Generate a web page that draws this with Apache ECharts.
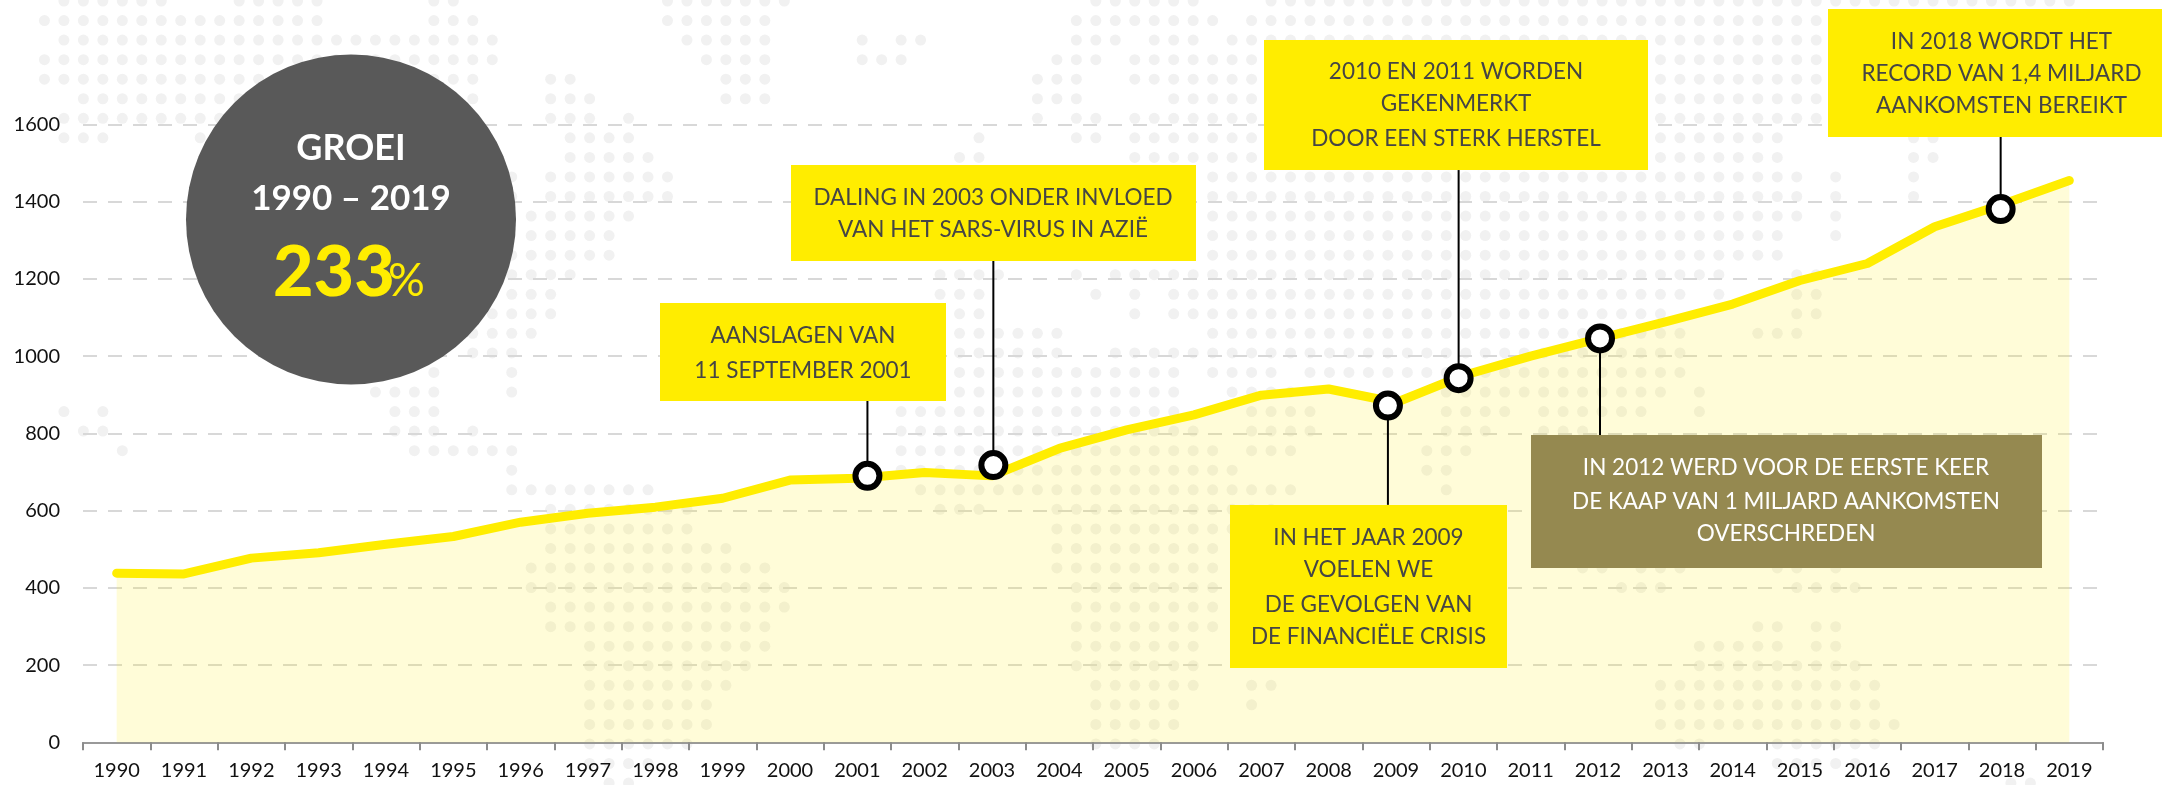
<!DOCTYPE html>
<html><head><meta charset="utf-8">
<style>html,body{margin:0;padding:0;background:#fff}#c{width:2162px;height:785px}</style>
<script src="https://cdn.jsdelivr.net/npm/echarts@6/dist/echarts.min.js"></script>
</head><body><div id="c"></div>
<script>
const years=['1990','1991','1992','1993','1994','1995','1996','1997','1998','1999','2000','2001','2002','2003','2004','2005','2006','2007','2008','2009','2010','2011','2012','2013','2014','2015','2016','2017','2018','2019'];
const arrivals=[438,436,477,491,513,533,570,593,609,632,679,684,699,690,761,809,848,899,915,880,950,1000,1045,1089,1135,1196,1240,1335,1393,1455];
// annotated points: [position on time axis, value]
const markerPoints=[[2001.15,690],[2003.02,718],[2008.88,872],[2009.93,943],[2012.03,1046],[2017.98,1381]];
// value at which each leader line meets its callout box
const leaderEnds=[884,1247,615,1482,793,1568];
const yTicks={min:0,max:1600,step:200};
// decorative dotted world map: per row, [first column, last column] spans
const mapRows=[
[[3,8],[12,16],[22,23],[34,40],[56,61],[65,106]],
[[2,16],[22,24],[34,39],[55,62],[64,93]],
[[3,25],[35,39],[44,44],[46,47],[55,57],[59,61],[63,93]],
[[2,25],[36,39],[44,46],[54,56],[58,93]],
[[2,24],[28,29],[37,39],[53,55],[58,93]],
[[4,24],[28,30],[37,39],[53,55],[60,93]],
[[3,24],[28,30],[32,32],[53,53],[55,56],[58,93]],
[[3,5],[10,10],[29,32],[50,50],[55,56],[58,91],[98,99]],
[[29,33],[49,50],[58,91],[98,99]],
[[26,26],[28,34],[62,92],[94,94],[98,98]],
[[26,26],[28,34],[62,92],[94,94],[98,98]],
[[27,32],[62,92],[94,94]],
[[27,31],[62,91],[94,94]],
[[26,31],[62,91]],
[[26,29],[48,51],[55,55],[57,88],[92,93]],
[[26,28],[48,50],[56,56],[58,58],[60,86],[88,88],[92,93]],
[[25,28],[49,50],[58,58],[60,85],[92,93]],
[[24,27],[49,54],[62,86],[90,92]],
[[24,26],[49,54],[57,86]],
[[22,22],[26,26],[49,60],[62,65],[67,86]],
[[19,22],[26,26],[49,60],[63,66],[74,85],[87,87]],
[[3,3],[5,5],[20,22],[46,60],[64,67],[74,77],[79,84],[87,87]],
[[4,5],[20,22],[24,24],[46,61],[64,67],[74,76],[79,81]],
[[6,6],[21,26],[46,62],[64,66],[73,75]],
[[26,26],[46,63],[73,74]],
[[26,33],[47,66],[74,74]],
[[28,35],[48,50],[54,65]],
[[28,35],[54,63]],
[[28,37],[54,62]],
[[27,39],[54,62],[81,82],[84,86],[91,92],[94,94]],
[[27,40],[55,62],[83,85],[92,95]],
[[28,40],[55,62]],
[[28,39],[55,62],[90,91],[93,94]],
[[30,39],[55,61],[87,91],[93,94]],
[[30,38],[55,61],[87,95]],
[[30,37],[56,61],[64,65],[85,96]],
[[30,36],[56,60],[64,64],[85,96]],
[[30,36],[56,60],[85,97]],
[[30,35],[56,59],[86,87],[91,96]],
[[30,33],[91,95]],
[[31,32],[103,104]]
];
const calloutLines=[
 ['AANSLAGEN VAN','11 SEPTEMBER 2001'],
 ['DALING IN 2003 ONDER INVLOED','VAN HET SARS-VIRUS IN AZIË'],
 ['2010 EN 2011 WORDEN','GEKENMERKT','DOOR EEN STERK HERSTEL'],
 ['IN 2018 WORDT HET','RECORD VAN 1,4 MILJARD','AANKOMSTEN BEREIKT'],
 ['IN HET JAAR 2009','VOELEN WE','DE GEVOLGEN VAN','DE FINANCIËLE CRISIS'],
 ['IN 2012 WERD VOOR DE EERSTE KEER','DE KAAP VAN 1 MILJARD AANKOMSTEN','OVERSCHREDEN']
];
const badgeTitle=['GROEI','1990 – 2019'];
const badgeValue='233';
const badgeUnit='%';

// layout of the callouts in page pixels
const boxLayout=[
 {x:660,y:303,w:286,h:98,cx:803,ly:[336,370.7],fill:'#ffed00',ink:'#454545'},
 {x:791,y:165,w:405,h:96,cx:993,ly:[197.7,230],fill:'#ffed00',ink:'#454545'},
 {x:1264,y:40,w:384,h:130,cx:1456,ly:[71.7,103.7,138.7],fill:'#ffed00',ink:'#454545'},
 {x:1828,y:9,w:334,h:128,cx:2001.5,ly:[41.7,73.3,106],fill:'#ffed00',ink:'#454545'},
 {x:1230,y:505,w:277,h:163,cx:1368.5,ly:[537.7,570,605,636.7],fill:'#ffed00',ink:'#454545'},
 {x:1531,y:435,w:511,h:133,cx:1786,ly:[467.7,501.7,534],fill:'#958950',ink:'#ffffff'}
];
const FONT='Lato, "Open Sans", sans-serif';
const graphics=[];
graphics.push({type:'circle',z:60,shape:{cx:351,cy:219.5,r:165},style:{fill:'#595959'}});
graphics.push({type:'text',z:61,style:{x:351,y:148,text:badgeTitle[0],align:'center',verticalAlign:'middle',fill:'#fff',font:'700 36px '+FONT}});
graphics.push({type:'text',z:61,style:{x:351,y:199,text:badgeTitle[1],align:'center',verticalAlign:'middle',fill:'#fff',font:'700 35px '+FONT}});
graphics.push({type:'text',z:61,style:{x:273,y:273,text:badgeValue,align:'left',verticalAlign:'middle',fill:'#ffed00',font:'900 70px '+FONT}});
graphics.push({type:'text',z:61,style:{x:388,y:281,text:badgeUnit,align:'left',verticalAlign:'middle',fill:'#ffed00',font:'400 46px '+FONT}});
boxLayout.forEach((b,i)=>{
  graphics.push({type:'rect',z:50,shape:{x:b.x,y:b.y,width:b.w,height:b.h},style:{fill:b.fill}});
  calloutLines[i].forEach((t,j)=>graphics.push({type:'text',z:51,style:{x:b.cx,y:b.ly[j],text:t,align:'center',verticalAlign:'middle',fill:b.ink,font:'400 22.5px '+FONT}}));
});

const mapDots=[];
mapRows.forEach((spans,r)=>spans.forEach(([a,b])=>{for(let c=a;c<=b;c++)mapDots.push([c,r]);}));

const chart=echarts.init(document.getElementById('c'),null,{renderer:'canvas'});
chart.setOption({
 animation:false,
 backgroundColor:'#fff',
 textStyle:{fontFamily:FONT},
 grid:[
  {left:83,right:59,top:124.5,bottom:42.7},
  {left:0,top:0,width:2162,height:785}
 ],
 xAxis:[
  {type:'category',gridIndex:0,data:years,boundaryGap:true,
   axisLine:{show:true,lineStyle:{color:'#999',width:2}},
   axisTick:{show:true,length:8,alignWithLabel:false,lineStyle:{color:'#8c8c8c',width:2}},
   axisLabel:{interval:0,color:'#111',fontSize:20,margin:18,fontFamily:FONT},
   splitLine:{show:false}},
  {type:'value',gridIndex:0,show:false,min:1989.5,max:2019.5,splitLine:{show:false}},
  {type:'value',gridIndex:1,show:false,min:-0.2825,max:110.76,splitLine:{show:false}}
 ],
 yAxis:[
  {type:'value',gridIndex:0,min:yTicks.min,max:yTicks.max,interval:yTicks.step,
   axisLine:{show:false},axisTick:{show:false},
   axisLabel:{color:'#111',fontSize:20,margin:23,fontFamily:FONT,formatter:v=>String(v)},
   splitLine:{show:true,lineStyle:{color:'#d8d8d8',width:2,type:[14,11]}}},
  {type:'value',gridIndex:1,show:false,inverse:true,min:-0.051,max:40.1,splitLine:{show:false}}
 ],
 series:[
  {type:'scatter',xAxisIndex:2,yAxisIndex:1,data:mapDots,symbol:'circle',symbolSize:11,silent:true,z:-1,
   itemStyle:{color:'#f1f1f1',opacity:1},emphasis:{disabled:true}},
  {type:'line',xAxisIndex:0,yAxisIndex:0,data:arrivals,symbol:'none',z:3,
   lineStyle:{color:'#ffed00',width:9,cap:'round',join:'round'},
   areaStyle:{color:'rgba(255,237,0,0.22)'},silent:true},
  {type:'custom',xAxisIndex:1,yAxisIndex:0,z:4,silent:true,
   data:markerPoints.map((p,i)=>[p[0],p[1],leaderEnds[i]]),
   encode:{x:0,y:1},
   renderItem:(params,api)=>{
     const a=api.coord([api.value(0),api.value(1)]);
     const b=api.coord([api.value(0),api.value(2)]);
     return {type:'line',shape:{x1:a[0],y1:a[1],x2:b[0],y2:b[1]},style:{stroke:'#000',lineWidth:2,fill:null}};
   }},
  {type:'scatter',xAxisIndex:1,yAxisIndex:0,data:markerPoints,symbol:'circle',symbolSize:24,z:5,silent:true,
   itemStyle:{color:'#fff',borderColor:'#000',borderWidth:6,opacity:1},emphasis:{disabled:true}}
 ],
 graphic:{elements:graphics}
});
</script></body></html>
